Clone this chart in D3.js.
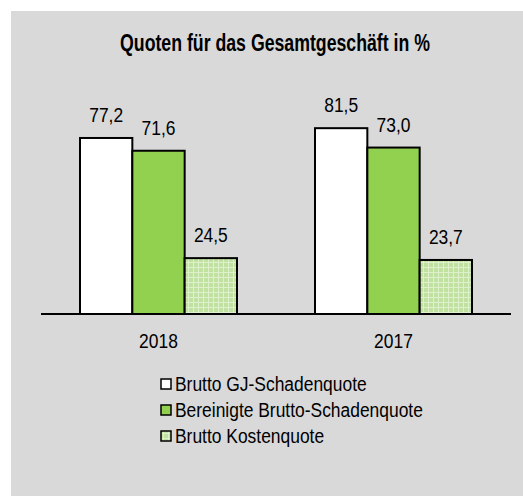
<!DOCTYPE html>
<html>
<head>
<meta charset="utf-8">
<script src="https://cdn.jsdelivr.net/npm/d3@7"></script>
<style>
  body { margin: 0; background: #fff; }
  svg text { font-family: "Liberation Sans", Arial, sans-serif; }
</style>
</head>
<body>
<div id="chart"></div>
<script>
const years = ["2018", "2017"];
const series = ["Brutto GJ-Schadenquote", "Bereinigte Brutto-Schadenquote", "Brutto Kostenquote"];
const values = {
  "2018": [77.2, 71.6, 24.5],
  "2017": [81.5, 73.0, 23.7]
};
const title = "Quoten für das Gesamtgeschäft in %";

const width = 523, height = 496;
const sx = 0.83; // narrow the text like Arial Narrow

const svg = d3.select("#chart")
  .append("svg")
    .attr("width", width)
    .attr("height", height);

// pattern for the cost ratio bars
const defs = svg.append("defs");
const pat = defs.append("pattern")
    .attr("id", "grid")
    .attr("patternUnits", "userSpaceOnUse")
    .attr("width", 5)
    .attr("height", 5);
pat.append("rect").attr("width", 5).attr("height", 5).attr("fill", "#c0e19f");
pat.append("rect").attr("x", 0).attr("y", 2).attr("width", 5).attr("height", 1).attr("fill", "#def0cc");
pat.append("rect").attr("x", 2).attr("y", 0).attr("width", 1).attr("height", 5).attr("fill", "#def0cc");

const fills = ["#ffffff", "#92d050", "url(#grid)"];

svg.append("rect")
  .attr("x", 11).attr("y", 11)
  .attr("width", width - 11).attr("height", height - 11)
  .attr("fill", "#d9d9d9");

svg.append("text")
  .attr("transform", "translate(275,51) scale(0.77,1)")
  .attr("text-anchor", "middle")
  .style("font-size", "23px")
  .style("font-weight", "bold")
  .text(title);

const x0 = d3.scaleBand()
  .domain(years)
  .range([41, 511]);

const x1 = d3.scaleBand()
  .domain(series)
  .range([39, 196]);

const y = d3.scaleLinear()
  .domain([0, 100])
  .range([314, 86]);

const groups = svg.selectAll(".grp")
  .data(years)
  .join("g")
    .attr("class", "grp")
    .attr("transform", d => `translate(${x0(d)},0)`);

groups.selectAll("rect")
  .data(d => series.map((s, i) => ({ s: s, i: i, v: values[d][i] })))
  .join("rect")
    .attr("x", d => x1(d.s))
    .attr("y", d => y(d.v))
    .attr("width", x1.bandwidth())
    .attr("height", d => y(0) - y(d.v))
    .attr("fill", d => fills[d.i])
    .attr("stroke", "#000")
    .attr("stroke-width", 2);

groups.selectAll(".lbl")
  .data(d => series.map((s, i) => ({ s: s, i: i, v: values[d][i] })))
  .join("text")
    .attr("class", "lbl")
    .attr("transform", d => `translate(${x1(d.s) + x1.bandwidth() / 2},${y(d.v) - 16}) scale(${sx},1)`)
    .attr("text-anchor", "middle")
    .style("font-size", "21px")
    .text(d => d.v.toFixed(1).replace(".", ","));

// axis line
svg.append("line")
  .attr("x1", 41).attr("x2", 511)
  .attr("y1", y(0)).attr("y2", y(0))
  .attr("stroke", "#000")
  .attr("stroke-width", 2);

svg.selectAll(".year")
  .data(years)
  .join("text")
    .attr("class", "year")
    .attr("transform", d => `translate(${x0(d) + x0.bandwidth() / 2},348) scale(${sx},1)`)
    .attr("text-anchor", "middle")
    .style("font-size", "21px")
    .text(d => d);

// legend
const legend = svg.selectAll(".leg")
  .data(series)
  .join("g")
    .attr("class", "leg")
    .attr("transform", (d, i) => `translate(161,${379 + i * 26})`);

legend.append("rect")
  .attr("width", 10).attr("height", 10)
  .attr("fill", (d, i) => fills[i])
  .attr("stroke", "#000")
  .attr("stroke-width", 1.5);

legend.append("text")
  .attr("transform", `translate(14,12) scale(${sx},1)`)
  .style("font-size", "21px")
  .text(d => d);
</script>
</body>
</html>
